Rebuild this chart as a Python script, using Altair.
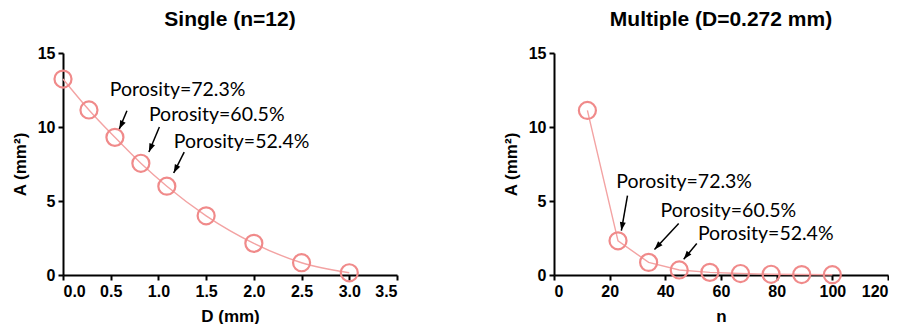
import altair as alt
import pandas as pd

# ---- data ----
single_D = [0.0, 0.272, 0.544, 0.816, 1.088, 1.5, 2.0, 2.5, 3.0]
single_A = [13.24, 11.15, 9.30, 7.55, 6.00, 4.00, 2.14, 0.83, 0.15]

multi_n = [12, 23, 34, 45, 56, 67, 78, 89, 100]
multi_A = [11.12, 2.31, 0.85, 0.34, 0.18, 0.10, 0.05, 0.03, 0.02]

labels = ["Porosity=72.3%", "Porosity=60.5%", "Porosity=52.4%"]

# annotation anchors (data units)
single_tx = [0.49, 0.90, 1.16]
single_ty = [12.5, 10.8, 9.0]
single_ax = [0.67, 1.01, 1.27]
single_ay = [11.1, 10.0, 8.3]
single_ax2 = [0.59, 0.90, 1.16]
single_ay2 = [9.86, 8.31, 6.89]
single_ang = [25, 23, 27]

multi_tx = [22.4, 38.3, 51.7]
multi_ty = [6.3, 4.3, 2.8]
multi_ax = [26.4, 44.8, 51.3]
multi_ay = [5.36, 3.48, 2.13]
multi_ax2 = [24.2, 36.1, 46.6]
multi_ay2 = [3.0, 1.73, 1.06]
multi_ang = [10, 43, 39]

LINE_COLOR = "#f3a3a3"
PT_COLOR = "#f08a8a"
Y_TITLE = "A (mm\u00b2)"


def panel(xs, ys, tx, ty, ax, ay, ax2, ay2, ang, xtitle, xdomain, xvalues, xfmt, title, interp):
    df = pd.DataFrame({"x": xs, "A": ys})
    ann = pd.DataFrame({"label": labels, "tx": tx, "ty": ty, "ax": ax, "ay": ay,
                        "ax2": ax2, "ay2": ay2, "ang": ang})
    xscale = alt.Scale(domain=xdomain, nice=False, zero=False)
    yscale = alt.Scale(domain=[0, 15], nice=False)
    xaxis = alt.Axis(values=xvalues, format=xfmt, title=xtitle, titlePadding=9)
    yaxis = alt.Axis(values=[0, 5, 10, 15], title=Y_TITLE)

    def X(f):
        return alt.X(f"{f}:Q", scale=xscale, axis=xaxis, title=xtitle)

    def Y(f):
        return alt.Y(f"{f}:Q", scale=yscale, axis=yaxis, title=Y_TITLE)

    line = alt.Chart(df).mark_line(color=LINE_COLOR, strokeWidth=1.4, interpolate=interp).encode(
        x=X("x"), y=Y("A"))
    pts = alt.Chart(df).mark_point(shape="circle", size=290, filled=False, strokeWidth=2.2,
                                   color=PT_COLOR, opacity=1).encode(x=X("x"), y=Y("A"))
    txt = alt.Chart(ann).mark_text(align="left", baseline="middle", font="Lato", fontSize=19.5,
                                   color="black").encode(x=X("tx"), y=Y("ty"), text="label:N")
    rule = alt.Chart(ann).mark_rule(color="black", strokeWidth=1.5).encode(
        x=X("ax"), y=Y("ay"), x2="ax2:Q", y2="ay2:Q")
    head = alt.Chart(ann).mark_point(shape="M0,0L-0.6,-1.7L0.6,-1.7Z", filled=True, color="black",
                                     size=100, opacity=1).encode(
        x=X("ax2"), y=Y("ay2"), angle=alt.Angle("ang:Q", scale=None))
    return alt.layer(line, pts, rule, head, txt).properties(
        width=334, height=222,
        title=alt.TitleParams(title, fontSize=21, font="Liberation Sans", fontWeight="bold",
                              anchor="middle", offset=15, color="black"))


left = panel(single_D, single_A, single_tx, single_ty, single_ax, single_ay, single_ax2, single_ay2,
             single_ang, "D (mm)", [0, 3.5], [0, 0.5, 1, 1.5, 2, 2.5, 3, 3.5], ".1f",
             "Single (n=12)", "monotone")
right = panel(multi_n, multi_A, multi_tx, multi_ty, multi_ax, multi_ay, multi_ax2, multi_ay2,
              multi_ang, "n", [0, 120], [0, 20, 40, 60, 80, 100, 120], "d",
              "Multiple (D=0.272 mm)", "linear")

chart = alt.hconcat(left, right, spacing=104).properties(
    padding={"left": 3, "top": 1, "right": 0, "bottom": 0}
).configure_view(stroke=None).configure_axis(
    grid=False, domainColor="black", domainWidth=2, tickColor="black", tickWidth=2, tickSize=5,
    labelFont="Liberation Sans", labelFontWeight="bold", labelFontSize=16, labelColor="black",
    labelPadding=3, titleFont="Liberation Sans", titleFontWeight="bold", titleFontSize=17,
    titleColor="black", titlePadding=8
)

chart.save("out.html", embed_options={"renderer": "svg", "actions": False})
